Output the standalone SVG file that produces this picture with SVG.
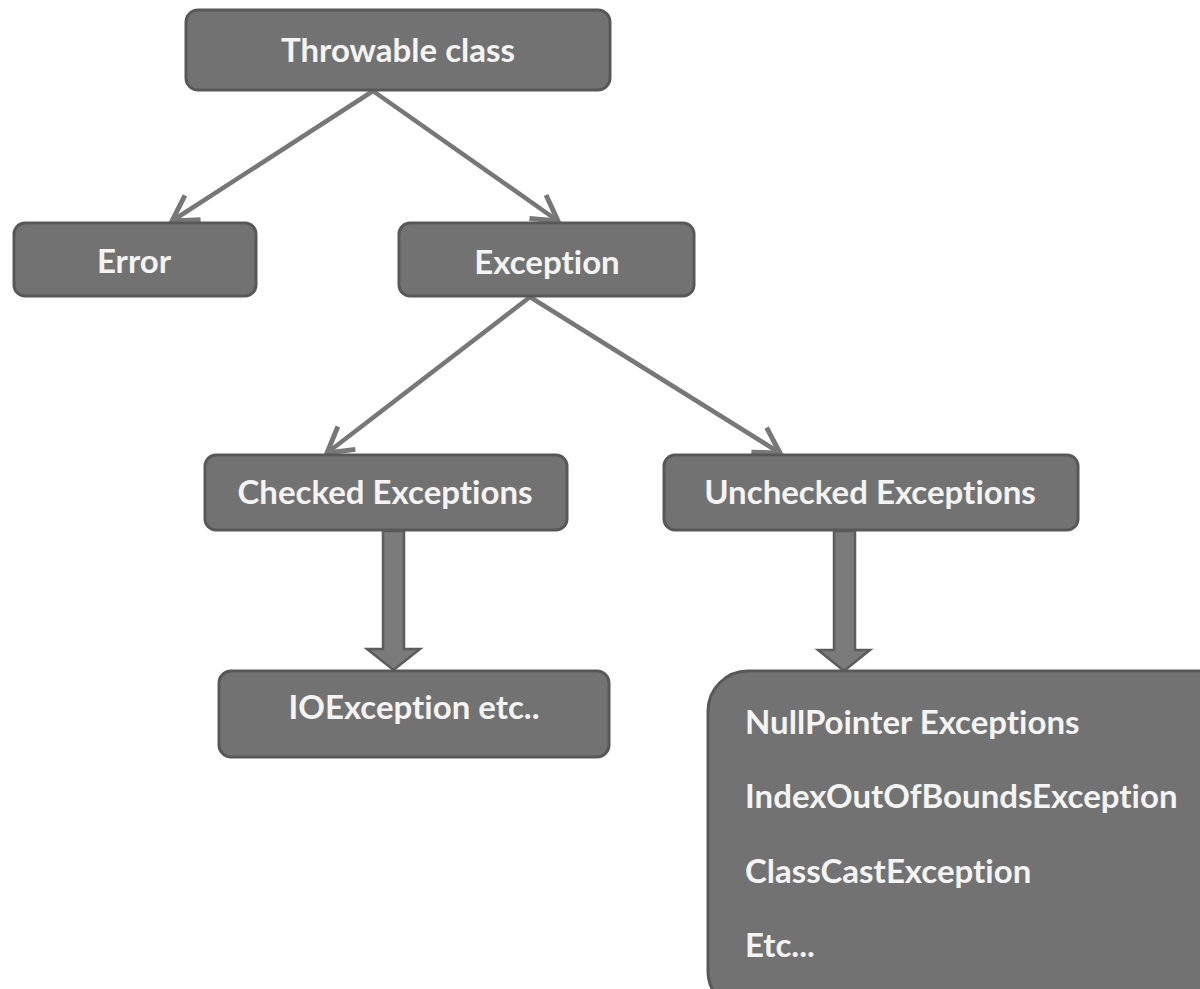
<svg xmlns="http://www.w3.org/2000/svg" width="1200" height="989" viewBox="0 0 1200 989">
<defs>
<style>
.box{fill:#727272;stroke:#585858;stroke-width:3}
.t{fill:#f4f4f4;font-family:Lato,"Open Sans","Liberation Sans",sans-serif;font-weight:bold;font-size:33px;font-variant-ligatures:none;font-feature-settings:"liga" 0}
.c{text-anchor:middle}
.ln{stroke:#777;stroke-width:4.5;fill:none}
.blk{fill:#7a7a7a;stroke:#5c5c5c;stroke-width:2.5;stroke-linejoin:miter}
</style>
<marker id="open" markerWidth="8" markerHeight="8" refX="6.5" refY="4" orient="auto" markerUnits="strokeWidth" viewBox="0 0 8 8">
<path d="M1,0.8 L6.5,4 L1,7.2" fill="none" stroke="#777" stroke-width="1.1"/>
</marker>
</defs>
<rect width="1200" height="989" fill="#ffffff"/>
<g id="connectors">
<line class="ln" x1="373" y1="91" x2="172" y2="221" marker-end="url(#open)"/>
<line class="ln" x1="373" y1="91" x2="558" y2="221" marker-end="url(#open)"/>
<line class="ln" x1="530" y1="297" x2="327" y2="453" marker-end="url(#open)"/>
<line class="ln" x1="530" y1="297" x2="780" y2="453" marker-end="url(#open)"/>
<path class="blk" d="M383,531 L404,531 L404,649 L420,649 L393.5,670 L367,649 L383,649 Z"/>
<path class="blk" d="M834,531 L855,531 L855,650 L870,650 L844,671 L818,650 L834,650 Z"/>
</g>
<g id="throwable">
<rect class="box" x="186" y="10" width="424" height="80" rx="12"/>
<text class="t c" x="398" y="62">Throwable class</text>
</g>
<g id="error">
<rect class="box" x="14" y="223" width="242" height="73" rx="11"/>
<text class="t c" x="134" y="273">Error</text>
</g>
<g id="exception">
<rect class="box" x="399" y="223" width="295" height="73" rx="11"/>
<text class="t c" x="547" y="274">Exception</text>
</g>
<g id="checked">
<rect class="box" x="205" y="455" width="362" height="75" rx="11"/>
<text class="t c" x="385" y="504">Checked Exceptions</text>
</g>
<g id="unchecked">
<rect class="box" x="664" y="455" width="414" height="75" rx="11"/>
<text class="t c" x="870" y="504">Unchecked Exceptions</text>
</g>
<g id="ioexception">
<rect class="box" x="219" y="671" width="390" height="86" rx="12"/>
<text class="t c" x="414" y="719">IOException etc..</text>
</g>
<g id="runtime-list">
<rect class="box" x="708" y="671" width="530" height="340" rx="40"/>
<text class="t" x="745" y="734">NullPointer Exceptions</text>
<text class="t" x="745" y="808">IndexOutOfBoundsException</text>
<text class="t" x="745" y="883">ClassCastException</text>
<text class="t" x="745" y="957">Etc...</text>
</g>
</svg>
